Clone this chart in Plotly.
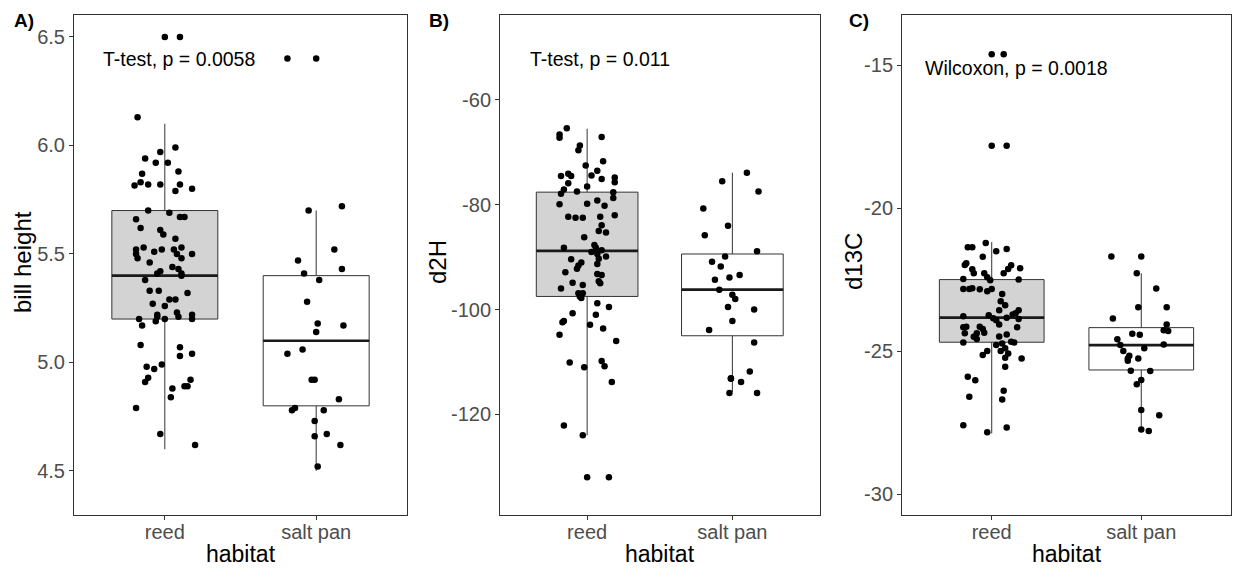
import plotly.graph_objects as go

categories = ["reed", "salt pan"]

# ---------------- Panel A: bill height ----------------
a_reed_vals = [6.50, 6.13, 5.97, 5.99, 5.94, 5.92, 5.92, 5.88, 5.87, 5.83,
               5.815, 5.82, 5.82, 5.82, 5.79, 5.80, 5.70, 5.69, 5.67, 5.67,
               5.66, 5.62, 5.61, 5.59, 5.57, 5.52, 5.53, 5.51, 5.52, 5.52,
               5.53, 5.50, 5.50, 5.50, 5.48, 5.46, 5.48, 5.44, 5.43, 5.42,
               5.41, 5.41, 5.40, 5.38, 5.33, 5.33, 5.32, 5.27, 5.26, 5.29,
               5.29, 5.22, 5.21, 5.23, 5.21, 5.22, 5.20, 5.20, 5.19, 5.20,
               5.17, 5.08, 5.07, 5.03, 5.04, 4.98, 4.97, 4.99, 4.91, 4.93,
               4.92, 4.89, 4.89, 4.88, 4.84, 4.79, 4.67, 4.62]
a_reed_jit = [0.10, -0.18, -0.03, 0.07, -0.13, -0.06, 0.02, 0.09, -0.15, -0.16,
              -0.20, -0.11, -0.03, 0.10, 0.07, 0.18, -0.11, 0.03, 0.10, 0.13,
              -0.19, -0.16, -0.03, -0.01, 0.07, -0.19, -0.14, -0.07, -0.02, 0.06,
              0.11, -0.19, 0.08, 0.18, -0.18, -0.10, 0.11, 0.05, 0.09, -0.03,
              -0.05, 0.11, 0.11, -0.13, -0.10, -0.04, 0.15, -0.08, 0.00, 0.03,
              0.07, -0.05, -0.05, 0.08, 0.09, 0.18, 0.18, -0.17, -0.06, 0.00,
              -0.15, -0.16, 0.10, 0.10, 0.18, -0.12, -0.07, -0.02, -0.13, -0.11,
              0.17, 0.13, 0.15, 0.05, 0.04, -0.19, -0.03, 0.20]
a_reed_outliers = [6.50]
a_reed_box = [4.60, 5.20, 5.40, 5.70, 6.10]  # lower, q1, median, q3, upper

a_salt_vals = [6.40, 5.70, 5.72, 5.52, 5.47, 5.43, 5.41, 5.38, 5.28, 5.18,
               5.17, 5.14, 5.06, 5.04, 4.92, 4.92, 4.83, 4.79, 4.78, 4.78,
               4.73, 4.66, 4.67, 4.62, 4.52]
a_salt_jit = [-0.19, -0.05, 0.17, 0.12, -0.12, 0.17, -0.08, 0.02, -0.06, 0.01,
              0.18, 0.00, -0.09, -0.19, -0.03, -0.01, 0.15, -0.14, -0.16, 0.05,
              -0.01, -0.01, 0.07, 0.16, 0.01]
a_salt_outliers = [6.40]
a_salt_box = [4.50, 4.80, 5.10, 5.40, 5.70]

# ---------------- Panel B: d2H ----------------
b_reed_vals = [-65.4, -66.6, -67.2, -67.1, -68.7, -69.6, -72.5, -71.7, -73.5, -74.4,
               -75.1, -74.5, -74.1, -74.5, -75.9, -74.8, -75.7, -76.5, -77.1, -77.9,
               -77.5, -77.6, -78.7, -79.9, -79.8, -79.2, -80.2, -82.0, -82.3, -82.5,
               -82.5, -82.3, -83.9, -85.0, -85.3, -86.2, -88.2, -87.7, -88.2, -89.0,
               -89.4, -88.7, -89.9, -90.4, -90.3, -91.0, -91.6, -92.2, -91.3, -92.9,
               -93.2, -93.4, -94.6, -95.0, -94.9, -95.3, -96.0, -96.9, -96.9, -97.5,
               -97.8, -98.8, -99.5, -100.7, -101.0, -102.2, -102.4, -102.9, -103.6, -104.8,
               -106.0, -110.1, -111.0, -109.8, -110.8, -113.8, -122.1, -124.0, -132.0]
b_reed_jit = [-0.14, -0.19, -0.19, 0.10, -0.05, -0.06, -0.01, 0.11, 0.07, 0.03,
              0.10, -0.18, -0.13, -0.11, -0.13, 0.19, 0.19, 0.00, -0.16, -0.18,
              -0.07, 0.18, 0.18, -0.19, 0.00, 0.07, 0.12, 0.19, -0.13, -0.08,
              -0.03, 0.09, 0.10, 0.08, 0.13, -0.02, -0.16, 0.05, 0.06, 0.03,
              0.07, 0.10, 0.13, -0.11, 0.08, -0.04, -0.06, -0.07, 0.07, -0.15,
              0.07, 0.10, 0.08, 0.09, -0.10, -0.03, -0.18, -0.06, -0.03, -0.05,
              -0.04, 0.07, 0.15, -0.10, 0.06, -0.16, -0.17, 0.02, 0.11, -0.19,
              0.20, -0.12, -0.02, 0.10, 0.12, 0.17, -0.16, -0.03, 0.15]
b_reed_outliers = [-132.0]
b_reed_box = [-124.0, -97.5, -88.8, -77.6, -65.5]

b_salt_vals = [-73.9, -75.5, -77.5, -80.7, -84.0, -85.8, -88.9, -89.9, -90.9, -91.8,
               -93.4, -93.9, -94.3, -96.2, -97.2, -98.0, -99.5, -100.0, -102.2, -103.9,
               -106.3, -111.8, -113.1, -113.2, -113.8, -115.9, -115.9]
b_salt_jit = [0.10, -0.07, 0.18, -0.20, -0.03, -0.19, 0.17, -0.05, -0.14, -0.08,
              0.05, -0.02, -0.12, -0.09, 0.00, 0.02, -0.03, 0.15, 0.00, -0.16,
              0.15, 0.12, -0.01, -0.01, 0.06, -0.02, 0.17]
b_salt_outliers = []
b_salt_box = [-115.7, -105.0, -96.2, -89.4, -73.9]

# ---------------- Panel C: d13C ----------------
c_reed_vals = [-14.62, -17.82, -21.37, -21.37, -21.22, -21.51, -21.43, -21.70, -21.93, -21.99,
               -22.00, -22.13, -22.28, -22.10, -22.14, -22.28, -22.28, -22.42, -22.52, -22.48,
               -22.50, -22.83, -22.83, -22.80, -22.84, -22.91, -22.83, -23.00, -23.26, -23.40,
               -23.57, -23.57, -23.68, -23.72, -23.78, -23.75, -23.85, -23.92, -23.83, -23.88,
               -24.07, -24.17, -24.15, -24.17, -24.15, -24.23, -24.38, -24.38, -24.50, -24.36,
               -24.58, -24.49, -24.42, -24.70, -24.79, -24.73, -24.67, -24.70, -24.90, -25.00,
               -25.08, -25.00, -25.14, -25.23, -25.26, -25.55, -25.90, -26.02, -26.39, -26.69,
               -26.60, -27.59, -27.67, -27.84]
c_reed_jit = [0.08, 0.10, -0.16, -0.13, -0.04, 0.03, 0.10, -0.06, -0.17, -0.18,
              0.13, 0.11, 0.08, 0.19, -0.13, -0.12, -0.05, -0.03, -0.01, -0.19,
              0.18, -0.19, -0.15, -0.13, -0.08, -0.03, 0.00, 0.07, 0.06, 0.09,
              0.05, 0.18, 0.16, 0.14, -0.19, -0.02, 0.01, 0.03, 0.10, 0.18,
              0.05, 0.17, -0.17, -0.19, -0.08, -0.06, -0.18, -0.10, -0.12, -0.05,
              -0.10, 0.05, 0.10, -0.19, 0.03, 0.07, 0.13, 0.15, 0.09, 0.06,
              0.11, -0.03, -0.06, 0.09, 0.20, 0.09, -0.16, -0.11, 0.08, 0.07,
              -0.15, -0.19, 0.10, -0.03]
c_reed_outliers = [-14.62, -17.82]
c_reed_box = [-27.88, -24.69, -23.83, -22.50, -21.19]

c_salt_vals = [-21.69, -22.28, -22.81, -23.47, -23.47, -23.86, -24.07, -24.27, -24.30, -24.39,
               -24.43, -24.59, -24.79, -24.77, -24.90, -25.00, -25.16, -25.26, -25.34, -25.26,
               -25.69, -25.70, -26.01, -26.16, -27.06, -27.24, -27.74, -27.79]
c_salt_jit = [-0.20, -0.03, 0.10, -0.02, 0.17, -0.19, 0.17, 0.15, 0.18, -0.06,
              -0.01, -0.16, -0.14, 0.15, 0.02, -0.12, -0.08, -0.09, -0.09, -0.02,
              -0.07, 0.06, 0.00, -0.03, 0.00, 0.12, 0.00, 0.05]
c_salt_outliers = [-21.69]
c_salt_box = [-27.76, -25.66, -24.79, -24.18, -22.28]

y_titles = ["bill height", "d2H", "d13C"]
panel_tags = ["A)", "B)", "C)"]
test_labels = ["T-test, p = 0.0058", "T-test, p = 0.011", "Wilcoxon, p = 0.0018"]
test_label_pos = [(0.58, 6.40), (0.59, -52.1), (0.54, -15.12)]
y_ticks = [[4.5, 5.0, 5.5, 6.0, 6.5], [-120, -100, -80, -60], [-30, -25, -20, -15]]
y_ticktext = [["4.5", "5.0", "5.5", "6.0", "6.5"], ["-120", "-100", "-80", "-60"],
              ["-30", "-25", "-20", "-15"]]
y_ranges = [[4.297, 6.601], [-139.2, -43.8], [-30.73, -13.25]]

# ---------------- layout geometry (pixels) ----------------
W, H = 1233, 569
x_dom_px = [(74, 407), (500, 819.5), (902, 1231)]
y_dom_px = (15, 515)
BOX_W = 0.7
FONT = "Liberation Sans, Arial, sans-serif"

panels = [
    [(a_reed_vals, a_reed_jit, a_reed_outliers, a_reed_box, "#D3D3D3"),
     (a_salt_vals, a_salt_jit, a_salt_outliers, a_salt_box, "#FFFFFF")],
    [(b_reed_vals, b_reed_jit, b_reed_outliers, b_reed_box, "#D3D3D3"),
     (b_salt_vals, b_salt_jit, b_salt_outliers, b_salt_box, "#FFFFFF")],
    [(c_reed_vals, c_reed_jit, c_reed_outliers, c_reed_box, "#D3D3D3"),
     (c_salt_vals, c_salt_jit, c_salt_outliers, c_salt_box, "#FFFFFF")],
]

fig = go.Figure()
annotations = []

for p, groups in enumerate(panels):
    xa = "x" if p == 0 else f"x{p+1}"
    ya = "y" if p == 0 else f"y{p+1}"
    for g, (vals, jit, outl, box, fill) in enumerate(groups):
        pos = g + 1
        lo, q1, med, q3, up = box
        fig.add_trace(go.Box(
            x=[pos], q1=[q1], median=[med], q3=[q3], lowerfence=[lo], upperfence=[up],
            width=BOX_W, fillcolor=fill, line=dict(color="#333333", width=1),
            whiskerwidth=0, boxpoints=False, xaxis=xa, yaxis=ya, hoverinfo="skip"))
        fig.add_trace(go.Scatter(
            x=[pos - BOX_W / 2, pos + BOX_W / 2], y=[med, med], mode="lines",
            line=dict(color="#1A1A1A", width=2.6), xaxis=xa, yaxis=ya, hoverinfo="skip"))
        if outl:
            fig.add_trace(go.Scatter(
                x=[pos] * len(outl), y=outl, mode="markers",
                marker=dict(color="black", size=6.5), xaxis=xa, yaxis=ya))
        fig.add_trace(go.Scatter(
            x=[pos + j for j in jit], y=vals, mode="markers",
            marker=dict(color="black", size=6.5), xaxis=xa, yaxis=ya))

    x0, x1 = x_dom_px[p]
    axis_common = dict(showgrid=False, zeroline=False, showline=True, mirror=True,
                       linecolor="#333333", linewidth=1, ticks="outside", ticklen=4,
                       tickcolor="#333333", tickwidth=1,
                       tickfont=dict(family=FONT, size=20, color="#4D4D4D"))
    fig.update_layout(**{
        ("xaxis" if p == 0 else f"xaxis{p+1}"): dict(
            domain=[x0 / W, x1 / W], range=[0.4, 2.6], tickvals=[1, 2],
            ticktext=categories, anchor=ya, ticklabelstandoff=-5, **axis_common),
        ("yaxis" if p == 0 else f"yaxis{p+1}"): dict(
            domain=[1 - y_dom_px[1] / H, 1 - y_dom_px[0] / H], range=y_ranges[p],
            tickvals=y_ticks[p], ticktext=y_ticktext[p], anchor=xa, **axis_common),
    })
    # test label
    lx, ly = test_label_pos[p]
    annotations.append(dict(x=lx, y=ly, xref=xa, yref=ya, text=test_labels[p],
                            showarrow=False, xanchor="left", yanchor="middle",
                            font=dict(family=FONT, size=19.5, color="black")))
    # x title
    annotations.append(dict(x=(x0 + x1) / 2 / W, y=1 - 554 / H, xref="paper", yref="paper",
                            text="habitat", showarrow=False, xanchor="center", yanchor="middle",
                            font=dict(family=FONT, size=23, color="black")))

y_title_x = [22, 437, 853]
tag_x = [12, 427, 847]
for p in range(3):
    annotations.append(dict(x=y_title_x[p] / W, y=1 - 262 / H, xref="paper", yref="paper",
                            text=y_titles[p], textangle=-90, showarrow=False,
                            xanchor="center", yanchor="middle",
                            font=dict(family=FONT, size=24, color="black")))
    annotations.append(dict(x=tag_x[p] / W, y=1 - 21 / H, xref="paper", yref="paper",
                            text="<b>" + panel_tags[p] + "</b>", showarrow=False,
                            xanchor="left", yanchor="middle",
                            font=dict(family=FONT, size=19, color="black")))

fig.update_layout(width=W, height=H, margin=dict(l=0, r=0, t=0, b=0),
                  paper_bgcolor="white", plot_bgcolor="white", showlegend=False,
                  annotations=annotations)

fig.write_html("out.html")
